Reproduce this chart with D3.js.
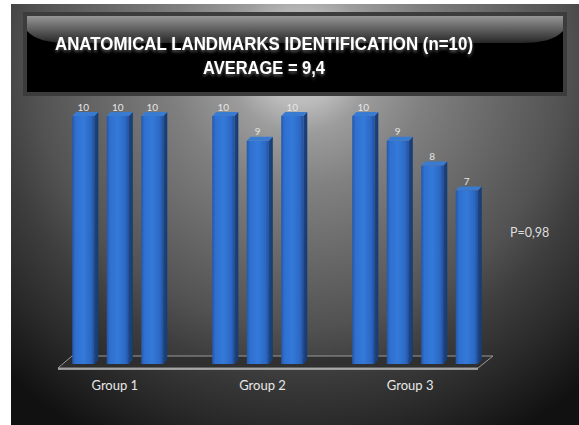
<!DOCTYPE html>
<html><head><meta charset="utf-8">
<script src="https://cdn.jsdelivr.net/npm/d3@7"></script>
<style>html,body{margin:0;padding:0;background:#fff;overflow:hidden}</style>
</head><body><svg id="c" width="579" height="425"></svg>
<script>
// ---- data ----
const groups = ["Group 1", "Group 2", "Group 3"];
const group1Values = [10, 10, 10];
const group2Values = [10, 9, 10];
const group3Values = [10, 9, 8, 7];
const titleLines = ["ANATOMICAL LANDMARKS IDENTIFICATION (n=10)", "AVERAGE = 9,4"];
const pValueLabel = "P=0,98";

const groupValues = [group1Values, group2Values, group3Values];
const rows = [];
groups.forEach((g, gi) => groupValues[gi].forEach((v, i) => rows.push({group: g, slot: i, value: v})));

const svg = d3.select("#c");
const defs = svg.append("defs");

// background gradient
const bg = defs.append("radialGradient").attr("id", "bg").attr("gradientUnits", "userSpaceOnUse")
  .attr("cx", 300).attr("cy", 60).attr("r", 430);
[[0,"#d2d2d2"],[0.1,"#bcbcbc"],[0.17,"#9c9c9c"],[0.3,"#808080"],[0.5,"#636363"],[0.62,"#525252"],[0.72,"#3e3e3e"],[0.85,"#2a2a2a"],[1,"#111"]]
  .forEach(s => bg.append("stop").attr("offset", s[0]).attr("stop-color", s[1]));

const gloss = defs.append("linearGradient").attr("id", "gloss").attr("x1", 0).attr("y1", 0).attr("x2", 0).attr("y2", 1);
[[0,"#969696"],[0.5,"#5e5e5e"],[1,"#262626"]].forEach(s => gloss.append("stop").attr("offset", s[0]).attr("stop-color", s[1]));

const front = defs.append("linearGradient").attr("id", "front").attr("x1", 0).attr("y1", 0).attr("x2", 1).attr("y2", 0);
[[0,"#2558a8"],[0.15,"#2f6fd0"],[0.5,"#347ad8"],[0.85,"#2c68c4"],[1,"#21509c"]].forEach(s => front.append("stop").attr("offset", s[0]).attr("stop-color", s[1]));
const side = defs.append("linearGradient").attr("id", "side").attr("x1", 0).attr("y1", 0).attr("x2", 1).attr("y2", 0);
[[0,"#1d4686"],[1,"#163a72"]].forEach(s => side.append("stop").attr("offset", s[0]).attr("stop-color", s[1]));

const glow = defs.append("filter").attr("id", "glow").attr("x", "-10%").attr("y", "-30%").attr("width", "120%").attr("height", "170%");
glow.append("feDropShadow").attr("dx", 0).attr("dy", 2).attr("stdDeviation", 1.5).attr("flood-color", "#999").attr("flood-opacity", 0.6);

// background
svg.append("rect").attr("x", 11).attr("y", 4).attr("width", 568).attr("height", 421).attr("fill", "url(#bg)");

// title box
svg.append("rect").attr("x", 23).attr("y", 12).attr("width", 544).attr("height", 84).attr("fill", "#3c3c3c");
svg.append("rect").attr("x", 27).attr("y", 16).attr("width", 536).attr("height", 76).attr("fill", "#000");
svg.append("path").attr("d", "M27,16 H563 V31 C555,40 540,43 520,43 H70 C50,43 35,40 27,31 Z").attr("fill", "url(#gloss)");
svg.selectAll("text.title").data(titleLines).join("text").attr("class", "title")
  .attr("x", 264).attr("y", (d, i) => i === 0 ? 49.5 : 74)
  .attr("text-anchor", "middle")
  .attr("font-family", "Liberation Sans, Arial, sans-serif").attr("font-weight", "bold")
  .attr("font-size", (d, i) => i === 0 ? 19 : 18)
  .attr("textLength", (d, i) => i === 0 ? 418 : 122).attr("lengthAdjust", "spacingAndGlyphs")
  .attr("fill", "#fff").attr("filter", "url(#glow)").text(d => d);

// scales
const x0 = d3.scaleBand().domain(groups).range([65, 485]);
const x1 = d3.scaleBand().domain([0, 1, 2, 3]).range([0, x0.bandwidth()]).paddingInner(0.36).paddingOuter(0.21);
const y = d3.scaleLinear().domain([0, 10]).range([364, 116]);
const xLabel = d3.scaleBand().domain(groups).range([41, 484]);
const d = 4;

// floor
const [r0, r1] = x0.range();
const fy = y(0) + 4, by = y(0) - 8;
svg.append("path").attr("d", `M${r0-7},${fy} L${r0+7},${by} L${r1+8},${by} L${r1-7},${fy} Z`)
  .attr("fill", "#2e2e2e").attr("fill-opacity", 0.85).attr("stroke", "#9a9a9a").attr("stroke-width", 1);
svg.append("line").attr("x1", r0-7).attr("x2", r1-7).attr("y1", fy+1).attr("y2", fy+1).attr("stroke", "#bdbdbd").attr("stroke-width", 1.6);

// bars
const bars = svg.append("g").selectAll("g").data(rows).join("g");
bars.append("path").attr("fill", "url(#side)").attr("d", r => {
  const x = x0(r.group) + x1(r.slot), w = x1.bandwidth(), t = y(r.value), b = y(0);
  return `M${x+w},${t} L${x+w+d},${t-d} L${x+w+d},${b-d} L${x+w},${b} Z`;
});
bars.append("path").attr("fill", "#3a7bd2").attr("d", r => {
  const x = x0(r.group) + x1(r.slot), w = x1.bandwidth(), t = y(r.value);
  return `M${x},${t} L${x+d},${t-d} L${x+w+d},${t-d} L${x+w},${t} Z`;
});
bars.append("rect").attr("fill", "url(#front)")
  .attr("x", r => x0(r.group) + x1(r.slot)).attr("width", x1.bandwidth())
  .attr("y", r => y(r.value)).attr("height", r => y(0) - y(r.value));

// value labels
svg.append("g").selectAll("text").data(rows).join("text")
  .attr("x", r => x0(r.group) + x1(r.slot) + x1.bandwidth() / 2)
  .attr("y", r => y(r.value) - 5.5)
  .attr("text-anchor", "middle").attr("font-family", "Lato, Open Sans, sans-serif").attr("font-size", 10)
  .attr("fill", "#e6e6e6").text(r => r.value);

// group labels
svg.append("g").selectAll("text").data(groups).join("text")
  .attr("x", g => xLabel(g) + xLabel.bandwidth() / 2).attr("y", 390)
  .attr("text-anchor", "middle").attr("font-family", "Lato, Open Sans, sans-serif").attr("font-size", 13)
  .attr("fill", "#e8e8e8").text(g => g);

// p value
svg.append("text").attr("x", 510).attr("y", 237).attr("font-family", "Lato, Open Sans, sans-serif")
  .attr("font-size", 12.5).attr("fill", "#dedede").text(pValueLabel);
</script></body></html>
